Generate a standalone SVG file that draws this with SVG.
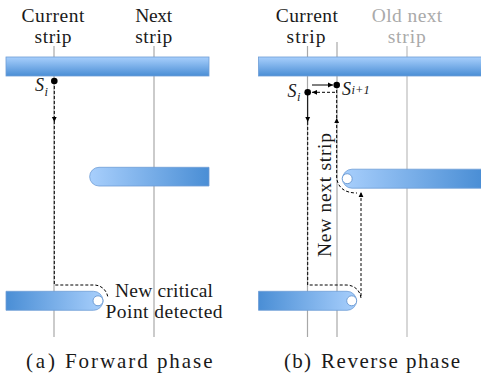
<svg xmlns="http://www.w3.org/2000/svg" width="481" height="378" viewBox="0 0 481 378">
<defs>
  <linearGradient id="gv" x1="0" y1="0" x2="0" y2="1">
    <stop offset="0" stop-color="#a8cffc"/>
    <stop offset="1" stop-color="#4a8ed5"/>
  </linearGradient>
  <linearGradient id="gr" x1="0" y1="0" x2="1" y2="0">
    <stop offset="0" stop-color="#a8cffc"/>
    <stop offset="1" stop-color="#4a8ed5"/>
  </linearGradient>
  <linearGradient id="gl" x1="0" y1="0" x2="1" y2="0">
    <stop offset="0" stop-color="#4a8ed5"/>
    <stop offset="1" stop-color="#a8cffc"/>
  </linearGradient>
  <marker id="ah" markerUnits="userSpaceOnUse" markerWidth="7" markerHeight="7" refX="5" refY="3" orient="auto">
    <path d="M0,0.6 L5,3 L0,5.4 z" fill="#000"/>
  </marker>
  <style>
    .grid{stroke:#a8a8a8;stroke-width:1.2;fill:none}
    .grid2{stroke:#bdbdbd;stroke-width:1.2;fill:none}
    .bar{stroke:#6e9dd6;stroke-width:0.8}
    .hole{fill:#fff;stroke:#6e9dd6;stroke-width:1}
    .dash{stroke:#000;stroke-width:1;fill:none;stroke-dasharray:3 2}
    .solid{stroke:#000;stroke-width:1;fill:none}
    .tip{stroke:none;fill:none}
    .dot{fill:#000}
    text{font-family:"Liberation Serif","Times New Roman",serif;fill:#1a1a1a}
    .lab{font-size:19.5px;text-anchor:middle}
    .grey{fill:#aaaaaa}
    .cap{font-size:21px}
    .sym{font-size:18px;font-style:italic}
    .sub{font-size:12.5px;font-style:italic}
  </style>
</defs>

<g id="grid-lines">
  <line class="grid" x1="54" y1="46" x2="54" y2="337"/>
  <line class="grid" x1="154" y1="46" x2="154" y2="337"/>
  <line class="grid" x1="307.5" y1="46" x2="307.5" y2="337"/>
  <line class="grid" x1="337" y1="42" x2="337" y2="337"/>
  <line class="grid2" x1="407" y1="46" x2="407" y2="337"/>
</g>

<g id="labels">
  <text class="lab" x="53" y="22" textLength="63" lengthAdjust="spacing">Current</text>
  <text class="lab" x="53" y="42.5" textLength="37" lengthAdjust="spacing">strip</text>
  <text class="lab" x="153.7" y="22" textLength="37" lengthAdjust="spacing">Next</text>
  <text class="lab" x="153.7" y="42.5" textLength="37" lengthAdjust="spacing">strip</text>
  <text class="lab" x="306.8" y="22" textLength="62" lengthAdjust="spacing">Current</text>
  <text class="lab" x="306" y="42.5" textLength="39" lengthAdjust="spacing">strip</text>
  <text class="lab grey" x="407" y="22" textLength="70.5" lengthAdjust="spacing">Old next</text>
  <text class="lab grey" x="406.7" y="42.5" textLength="38" lengthAdjust="spacing">strip</text>
</g>

<g id="bar-top-a"><rect class="bar" x="6" y="57" width="203" height="19" fill="url(#gv)"/></g>
<g id="bar-mid-a"><path class="bar" d="M209,167.3 H99 A9.35,9.35 0 0 0 99,186 H209 Z" fill="url(#gr)"/></g>
<g id="bar-bot-a">
  <path class="bar" d="M6,291.3 H93.5 A9.5,9.5 0 0 1 93.5,310.3 H6 Z" fill="url(#gl)"/>
  <circle class="hole" cx="98" cy="300.8" r="5"/>
</g>

<g id="bar-top-b"><rect class="bar" x="258.5" y="57" width="224" height="19" fill="url(#gv)"/></g>
<g id="bar-mid-b">
  <path class="bar" d="M482,169.2 H352 A9.5,9.5 0 0 0 352,188.2 H482 Z" fill="url(#gr)"/>
  <circle class="hole" cx="347.2" cy="178.7" r="5"/>
</g>
<g id="bar-bot-b">
  <path class="bar" d="M258.5,291.3 H347 A9.5,9.5 0 0 1 347,310.3 H258.5 Z" fill="url(#gl)"/>
  <circle class="hole" cx="351.7" cy="300.8" r="5"/>
</g>

<g id="connectors">
  <path class="dash" d="M54.3,81 V285 H94 C101,285 107,290 108,298"/>
  <path class="tip" d="M54.3,112 V122" marker-end="url(#ah)"/>
  <path class="solid" d="M312,85 H333" marker-end="url(#ah)"/>
  <path class="dash" d="M335,92.3 H312" marker-end="url(#ah)"/>
  <path class="solid" d="M307.7,92.3 V122"/>
  <path class="tip" d="M307.7,112 V122" marker-end="url(#ah)"/>
  <path class="dash" d="M307.7,122 V285 H346 C354,285 360,290 361,298 V192" marker-end="url(#ah)"/>
  <path class="dash" d="M336.7,85 V178 C338,188 345,193 357,193"/>
  <path class="tip" d="M336.7,130 V118" marker-end="url(#ah)"/>
</g>

<g id="points">
  <circle class="dot" cx="54.3" cy="81" r="3.3"/>
  <text class="sym" x="35" y="91">S<tspan class="sub" dx="0.5" dy="4.5">i</tspan></text>
  <circle class="dot" cx="307.7" cy="92.3" r="3.3"/>
  <text class="sym" x="287.5" y="96.5">S<tspan class="sub" dx="0.5" dy="4">i</tspan></text>
  <circle class="dot" cx="336.7" cy="85" r="3.3"/>
  <text class="sym" x="342" y="95">S<tspan class="sub" dx="0.5" dy="-1">i+1</tspan></text>
</g>

<g id="notes">
  <text class="lab" x="164" y="296.7" textLength="98" lengthAdjust="spacing">New critical</text>
  <text class="lab" x="164" y="318.3" textLength="117" lengthAdjust="spacing">Point detected</text>
  <text class="lab" transform="translate(330.7,195) rotate(-90)" x="0" y="0" textLength="124" lengthAdjust="spacing">New next strip</text>
</g>

<g id="captions">
  <text class="cap" x="26" y="368.3" textLength="29" lengthAdjust="spacing">(a)</text>
  <text class="cap" x="65" y="368.3" textLength="147.5" lengthAdjust="spacing">Forward phase</text>
  <text class="cap" x="284" y="368.3" textLength="27" lengthAdjust="spacing">(b)</text>
  <text class="cap" x="321" y="368.3" textLength="139" lengthAdjust="spacing">Reverse phase</text>
</g>
</svg>
